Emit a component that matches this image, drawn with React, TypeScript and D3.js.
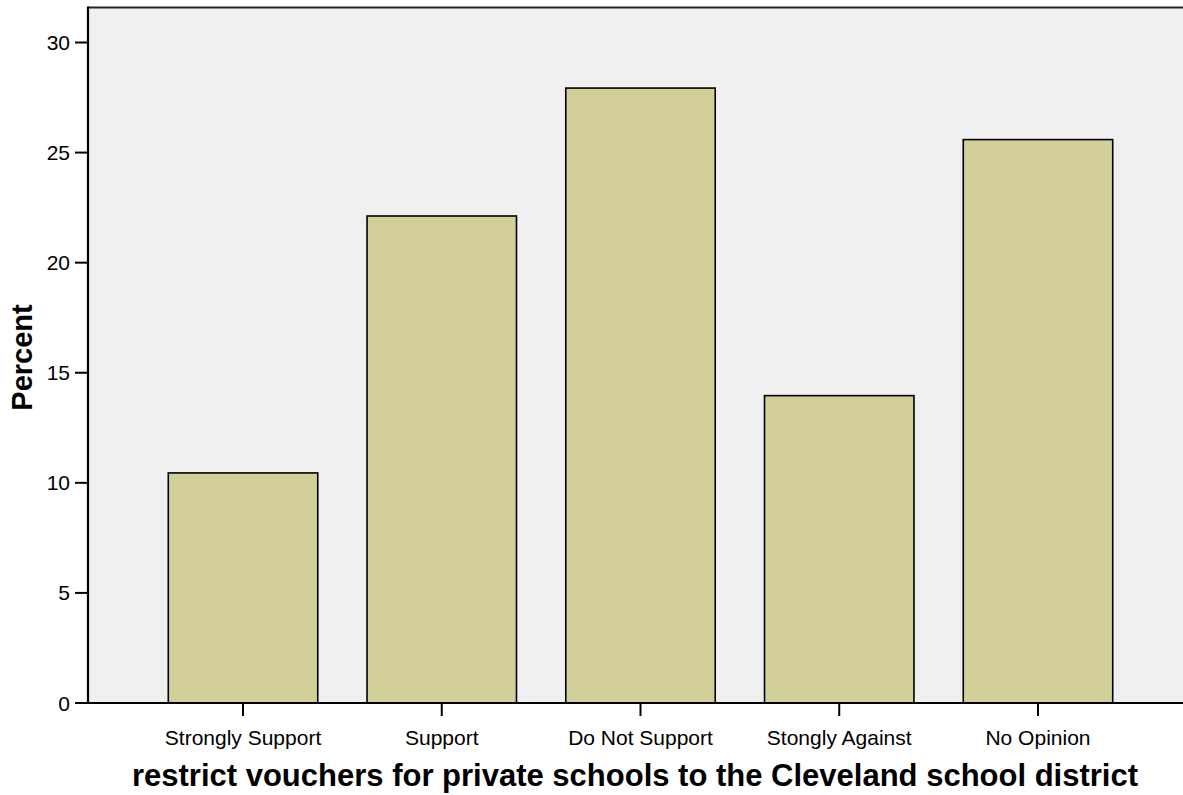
import React from "react";
import * as d3 from "d3";

const categories = ["Strongly Support", "Support", "Do Not Support", "Stongly Against", "No Opinion"];
const percents = [10.45, 22.12, 27.93, 13.96, 25.59];
const yTicks = [0, 5, 10, 15, 20, 25, 30];
const xTitle = "restrict vouchers for private schools to the Cleveland school district";
const yTitle = "Percent";

const W = 1183;
const H = 795;
const left = 88;
const top = 7.5;
const bottom = 703;
const right = 1193;

export default function App() {
  const y = d3.scaleLinear().domain([0, 30]).range([bottom, 42.5]);
  const x = d3
    .scaleBand<string>()
    .domain(categories)
    .range([left, right])
    .paddingInner(0.248)
    .paddingOuter(0.404);
  const font = "'Liberation Sans', Arial, sans-serif";
  return (
    <svg
      width={W}
      height={H}
      style={{ position: "absolute", left: 0, top: 0, background: "#ffffff" }}
      fontFamily={font}
    >
      <rect x={left} y={top} width={right - left} height={bottom - top} fill="#f0f0f0" />
      <line x1={left} x2={right} y1={top} y2={top} stroke="#222" strokeWidth={2} />
      {categories.map((c, i) => (
        <rect
          key={c}
          x={x(c)!}
          y={y(percents[i])}
          width={x.bandwidth()}
          height={y(0) - y(percents[i])}
          fill="#d3cf99"
          stroke="#000"
          strokeWidth={1.6}
        />
      ))}
      <line x1={left} x2={left} y1={top - 1} y2={bottom + 1} stroke="#000" strokeWidth={2.2} />
      <line x1={left - 13} x2={right} y1={bottom} y2={bottom} stroke="#000" strokeWidth={2.2} />
      {yTicks.map((t) => (
        <g key={t}>
          <line x1={left - 13} x2={left} y1={y(t)} y2={y(t)} stroke="#000" strokeWidth={2} />
          <text x={left - 18} y={y(t)} dy="0.36em" textAnchor="end" fontSize={21} fill="#000">
            {t}
          </text>
        </g>
      ))}
      {categories.map((c) => {
        const cx = x(c)! + x.bandwidth() / 2;
        return (
          <g key={c}>
            <line x1={cx} x2={cx} y1={bottom} y2={bottom + 13} stroke="#000" strokeWidth={2} />
            <text x={cx} y={745} textAnchor="middle" fontSize={21} fill="#000">
              {c}
            </text>
          </g>
        );
      })}
      <text x={635} y={786} textAnchor="middle" fontSize={31} fontWeight="bold" fill="#000">
        {xTitle}
      </text>
      <text
        transform={`translate(31.5,357.5) rotate(-90)`}
        textAnchor="middle"
        fontSize={29}
        fontWeight="bold"
        fill="#000"
      >
        {yTitle}
      </text>
    </svg>
  );
}
